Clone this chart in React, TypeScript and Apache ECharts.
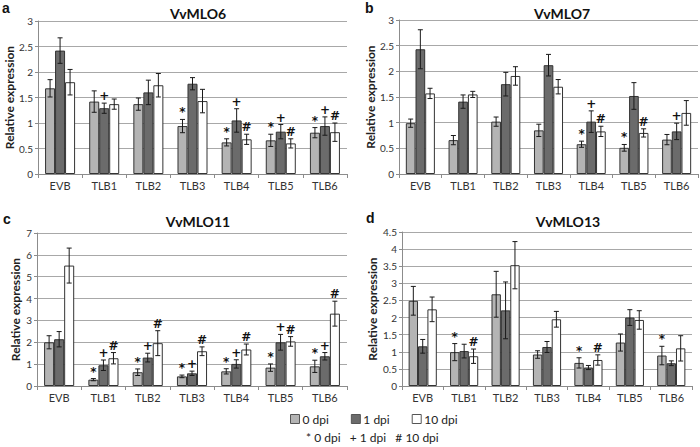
import React, { useEffect, useRef } from "react";
import * as echarts from "echarts";

const categories = ["EVB", "TLB1", "TLB2", "TLB3", "TLB4", "TLB5", "TLB6"];
const seriesNames = ["0 dpi", "1 dpi", "10 dpi"];
const panelTitles = ["VvMLO6", "VvMLO7", "VvMLO11", "VvMLO13"];
const panelLetters = ["a", "b", "c", "d"];
const yMax = [3, 3, 7, 4.5];
const yStep = [0.5, 0.5, 1, 0.5];

// VvMLO6
const mlo6Dpi0 = [1.68, 1.42, 1.37, 0.94, 0.62, 0.66, 0.81];
const mlo6Dpi1 = [2.42, 1.29, 1.6, 1.77, 1.05, 0.83, 0.94];
const mlo6Dpi10 = [1.8, 1.37, 1.74, 1.43, 0.68, 0.6, 0.82];
const mlo6Err0 = [0.17, 0.21, 0.12, 0.13, 0.07, 0.12, 0.1];
const mlo6Err1 = [0.25, 0.1, 0.24, 0.12, 0.23, 0.14, 0.18];
const mlo6Err10 = [0.25, 0.1, 0.23, 0.23, 0.1, 0.09, 0.18];
const mlo6Mark0 = ["", "", "", "*", "*", "*", "*"];
const mlo6Mark1 = ["", "+", "", "", "+", "+", "+"];
const mlo6Mark10 = ["", "", "", "", "#", "#", "#"];

// VvMLO7
const mlo7Dpi0 = [0.99, 0.66, 1.02, 0.85, 0.58, 0.51, 0.67];
const mlo7Dpi1 = [2.43, 1.41, 1.75, 2.12, 1.02, 1.52, 0.83];
const mlo7Dpi10 = [1.57, 1.55, 1.91, 1.7, 0.83, 0.8, 1.19];
const mlo7Err0 = [0.08, 0.09, 0.09, 0.12, 0.06, 0.065, 0.1];
const mlo7Err1 = [0.38, 0.13, 0.23, 0.21, 0.21, 0.26, 0.16];
const mlo7Err10 = [0.1, 0.06, 0.18, 0.14, 0.1, 0.08, 0.24];
const mlo7Mark0 = ["", "", "", "", "*", "*", ""];
const mlo7Mark1 = ["", "", "", "", "+", "", "+"];
const mlo7Mark10 = ["", "", "", "", "#", "#", ""];

// VvMLO11
const mlo11Dpi0 = [2.0, 0.29, 0.63, 0.44, 0.67, 0.84, 0.9];
const mlo11Dpi1 = [2.14, 0.95, 1.3, 0.58, 1.01, 2.0, 1.36];
const mlo11Dpi10 = [5.51, 1.27, 1.96, 1.59, 1.67, 2.04, 3.31];
const mlo11Err0 = [0.3, 0.05, 0.15, 0.06, 0.12, 0.17, 0.28];
const mlo11Err1 = [0.35, 0.24, 0.2, 0.1, 0.19, 0.36, 0.17];
const mlo11Err10 = [0.8, 0.26, 0.57, 0.2, 0.25, 0.22, 0.57];
const mlo11Mark0 = ["", "*", "*", "*", "*", "*", "*"];
const mlo11Mark1 = ["", "+", "+", "+", "+", "+", "+"];
const mlo11Mark10 = ["", "#", "#", "#", "#", "#", "#"];

// VvMLO13
const mlo13Dpi0 = [2.49, 0.99, 2.68, 0.92, 0.675, 1.27, 0.89];
const mlo13Dpi1 = [1.16, 1.02, 2.21, 1.14, 0.54, 2.0, 0.665];
const mlo13Dpi10 = [2.24, 0.87, 3.53, 1.95, 0.76, 1.93, 1.1];
const mlo13Err0 = [0.42, 0.25, 0.67, 0.11, 0.15, 0.25, 0.27];
const mlo13Err1 = [0.2, 0.2, 0.83, 0.16, 0.06, 0.23, 0.07];
const mlo13Err10 = [0.36, 0.21, 0.69, 0.23, 0.15, 0.27, 0.37];
const mlo13Mark0 = ["", "*", "", "", "*", "", "*"];
const mlo13Mark1 = ["", "", "", "", "", "", ""];
const mlo13Mark10 = ["", "#", "", "", "#", "", ""];

const panelValues = [
  [mlo6Dpi0, mlo6Dpi1, mlo6Dpi10],
  [mlo7Dpi0, mlo7Dpi1, mlo7Dpi10],
  [mlo11Dpi0, mlo11Dpi1, mlo11Dpi10],
  [mlo13Dpi0, mlo13Dpi1, mlo13Dpi10],
];
const panelErrors = [
  [mlo6Err0, mlo6Err1, mlo6Err10],
  [mlo7Err0, mlo7Err1, mlo7Err10],
  [mlo11Err0, mlo11Err1, mlo11Err10],
  [mlo13Err0, mlo13Err1, mlo13Err10],
];
const panelMarks = [
  [mlo6Mark0, mlo6Mark1, mlo6Mark10],
  [mlo7Mark0, mlo7Mark1, mlo7Mark10],
  [mlo11Mark0, mlo11Mark1, mlo11Mark10],
  [mlo13Mark0, mlo13Mark1, mlo13Mark10],
];

const FONT = "Lato, 'Liberation Sans', sans-serif";
const barColors = ["#b4b4b4", "#6b6b6b", "#ffffff"];
const CAT_GAP = 0.32;

const grids = [
  { left: 38, top: 21, width: 309, height: 153 },
  { left: 399, top: 20, width: 299, height: 154 },
  { left: 37, top: 233, width: 310, height: 153 },
  { left: 402, top: 232, width: 290, height: 154 },
];
const nameGaps = [22, 23, 16, 24];
const titlePos = [
  { x: 193, y: 1 },
  { x: 557, y: 1 },
  { x: 193, y: 209 },
  { x: 563, y: 209 },
];
const letterPos = [
  { x: 2, y: 1 },
  { x: 365, y: 1 },
  { x: 3, y: 212 },
  { x: 366, y: 211 },
];

function buildOption() {
  const xAxis: any[] = [];
  const yAxis: any[] = [];
  const series: any[] = [];
  const title: any[] = [];
  const graphic: any[] = [];
  grids.forEach((g, gi) => {
    xAxis.push({
      type: "category",
      gridIndex: gi,
      data: categories,
      boundaryGap: true,
      axisLine: { lineStyle: { color: "#8c8c8c", width: 1 } },
      axisTick: { show: true, length: 4, lineStyle: { color: "#8c8c8c" } },
      axisLabel: { color: "#333", fontSize: 11, fontFamily: FONT, margin: 6 },
      splitLine: { show: false },
    });
    yAxis.push({
      type: "value",
      gridIndex: gi,
      min: 0,
      max: yMax[gi],
      interval: yStep[gi],
      name: "Relative expression",
      nameLocation: "middle",
      nameGap: nameGaps[gi],
      nameTextStyle: { fontSize: 12, fontWeight: "bold", color: "#222", fontFamily: FONT },
      axisLine: { show: true, lineStyle: { color: "#8c8c8c", width: 1 } },
      axisTick: { show: true, length: 3, lineStyle: { color: "#8c8c8c" } },
      axisLabel: { color: "#333", fontSize: 10, fontFamily: FONT, margin: 5 },
      splitLine: { show: true, lineStyle: { color: "#a8a8a8", width: 1.2 } },
    });
    title.push({
      text: panelTitles[gi],
      left: titlePos[gi].x,
      top: titlePos[gi].y,
      textAlign: "center",
      textStyle: { fontSize: 14, fontWeight: "bold", color: "#111", fontFamily: FONT },
    });
    graphic.push({
      type: "text",
      left: letterPos[gi].x,
      top: letterPos[gi].y,
      style: { text: panelLetters[gi], fontSize: 14, fontWeight: "bold", fill: "#111", fontFamily: "'Liberation Sans', Arial, sans-serif" },
    });
    for (let s = 0; s < 3; s++) {
      series.push({
        type: "bar",
        name: seriesNames[s],
        xAxisIndex: gi,
        yAxisIndex: gi,
        data: panelValues[gi][s],
        barGap: "0%",
        barCategoryGap: CAT_GAP * 100 + "%",
        itemStyle: { color: barColors[s], borderColor: "#333", borderWidth: 1 },
        z: 2,
      });
    }
    for (let s = 0; s < 3; s++) {
      const vals = panelValues[gi][s];
      const errs = panelErrors[gi][s];
      const marks = panelMarks[gi][s];
      series.push({
        type: "custom",
        name: "err" + gi + "_" + s,
        xAxisIndex: gi,
        yAxisIndex: gi,
        z: 5,
        data: vals.map((v, i) => [i, v, errs[i]]),
        renderItem: (params: any, api: any) => {
          const i = api.value(0);
          const v = api.value(1);
          const e = api.value(2);
          const band = api.size([1, 0])[0];
          const bw = (band * (1 - CAT_GAP)) / 3;
          const c = api.coord([i, v]);
          const cx = c[0] + (s - 1) * bw;
          const top = api.coord([i, v + e])[1];
          const bot = api.coord([i, v - e])[1];
          const cap = 2.5;
          const ls = { stroke: "#1a1a1a", lineWidth: 1 };
          const children: any[] = [
            { type: "line", shape: { x1: cx, y1: top, x2: cx, y2: bot }, style: ls },
            { type: "line", shape: { x1: cx - cap, y1: top, x2: cx + cap, y2: top }, style: ls },
            { type: "line", shape: { x1: cx - cap, y1: bot, x2: cx + cap, y2: bot }, style: ls },
          ];
          const m = marks[params.dataIndex];
          if (m) {
            children.push({
              type: "text",
              x: cx,
              y: top - 1,
              style: {
                text: m,
                fill: "#111",
                fontSize: 12,
                fontWeight: "bold",
                fontFamily: "'DejaVu Sans', 'Liberation Sans', sans-serif",
                align: "center",
                verticalAlign: "bottom",
              },
            });
          }
          return { type: "group", children };
        },
      });
    }
  });

  graphic.push({
    type: "text",
    left: 306,
    top: 431,
    style: {
      text: "* 0 dpi   + 1 dpi   # 10 dpi",
      fontSize: 12,
      fill: "#222",
      fontFamily: FONT,
    },
  });

  return {
    animation: false,
    backgroundColor: "#ffffff",
    title,
    grid: grids.map((g) => ({ ...g, containLabel: false })),
    xAxis,
    yAxis,
    series,
    graphic,
    legend: {
      data: seriesNames,
      top: 408,
      left: 285,
      icon: "rect",
      itemWidth: 9,
      itemHeight: 9,
      itemGap: 22,
      textStyle: { fontSize: 12, color: "#222", fontFamily: FONT, padding: [0, 0, 0, -2] },
      itemStyle: { borderColor: "#555", borderWidth: 1 },
    },
  };
}

export default function App() {
  const ref = useRef<HTMLDivElement>(null);
  useEffect(() => {
    if (!ref.current) return;
    const chart = echarts.init(ref.current, undefined, { renderer: "svg" });
    chart.setOption(buildOption() as any);
    return () => chart.dispose();
  }, []);
  return (
    <div
      ref={ref}
      style={{ position: "absolute", left: 0, top: 0, width: 700, height: 447, background: "#fff" }}
    />
  );
}
